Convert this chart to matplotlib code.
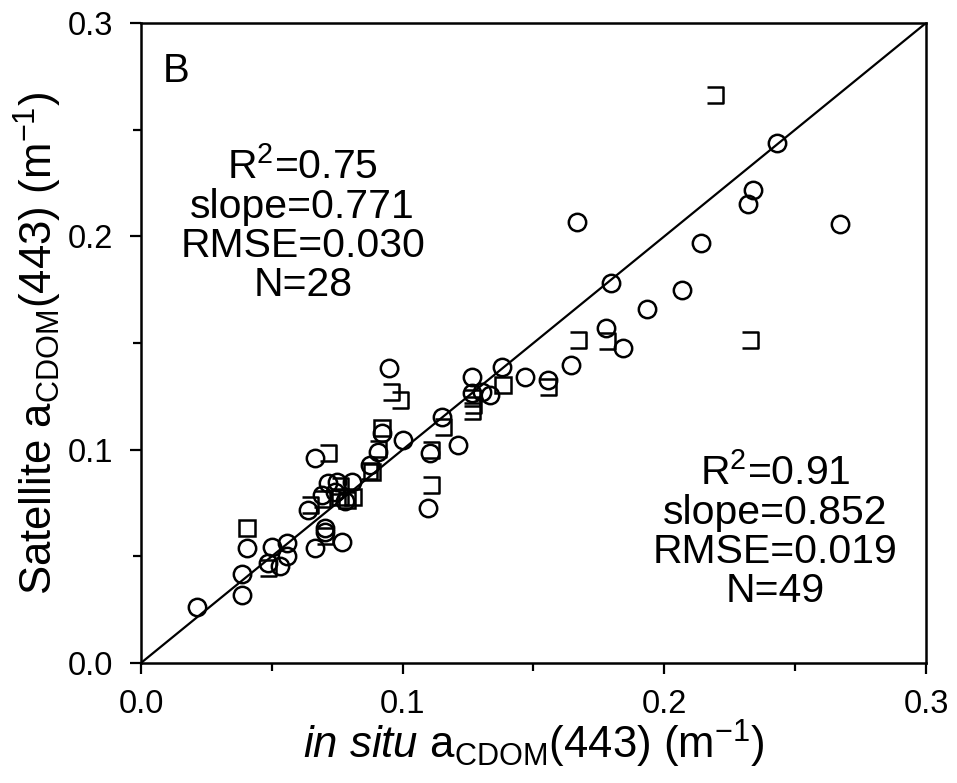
import matplotlib
matplotlib.use("Agg")
import matplotlib.pyplot as plt
from matplotlib.path import Path
from matplotlib.ticker import MultipleLocator, FormatStrFormatter

plt.rcParams['font.family'] = ['Liberation Sans', 'DejaVu Sans']
plt.rcParams['mathtext.fontset'] = 'custom'
plt.rcParams['mathtext.rm'] = 'Liberation Sans'
plt.rcParams['mathtext.it'] = 'Liberation Sans:italic'
plt.rcParams['mathtext.bf'] = 'Liberation Sans:bold'

# ---- data: circles (in situ vs satellite) ----
circ_x = [0.0213, 0.0385, 0.0385, 0.0406, 0.0486, 0.0500, 0.0531, 0.0557, 0.0557, 0.0639,
          0.0665, 0.0703, 0.0703, 0.0767, 0.0690, 0.0665, 0.0716, 0.0748, 0.0805, 0.0875,
          0.0907, 0.0920, 0.0949, 0.1002, 0.1098, 0.1104, 0.1149, 0.1213, 0.1264, 0.1264,
          0.1302, 0.1333, 0.1378, 0.1467, 0.1557, 0.1645, 0.1665, 0.1776, 0.1798, 0.1843,
          0.1935, 0.2069, 0.2142, 0.2321, 0.2339, 0.2429, 0.2671, 0.0740, 0.0780]
circ_y = [0.0264, 0.0319, 0.0416, 0.0537, 0.0467, 0.0545, 0.0455, 0.0502, 0.0561, 0.0717,
          0.0537, 0.0631, 0.0616, 0.0569, 0.0788, 0.0960, 0.0843, 0.0850, 0.0850, 0.0928,
          0.0991, 0.1080, 0.1381, 0.1045, 0.0725, 0.0983, 0.1155, 0.1022, 0.1342, 0.1264,
          0.1272, 0.1256, 0.1389, 0.1342, 0.1327, 0.1397, 0.2066, 0.1569, 0.1783, 0.1475,
          0.1658, 0.1749, 0.1967, 0.2152, 0.2218, 0.2436, 0.2057, 0.0800, 0.0760]

# ---- data: squares (full outline visible) ----
sqf_x = [0.0406, 0.0760, 0.0786, 0.0811, 0.0920, 0.1384, 0.0881]
sqf_y = [0.0631, 0.0780, 0.0764, 0.0780, 0.1100, 0.1303, 0.0897]

# ---- data: squares (printed with open left edge) ----
sqo_x = [0.0486, 0.0646, 0.0716, 0.0907, 0.0954, 0.0990, 0.1110, 0.1110, 0.1155, 0.1270,
         0.1557, 0.1671, 0.1780, 0.2193, 0.2327, 0.0690, 0.0703, 0.0760, 0.1264, 0.0870, 0.1264]
sqo_y = [0.0444, 0.0741, 0.0983, 0.1005, 0.1272, 0.1233, 0.0999, 0.0834, 0.1108, 0.1210,
         0.1295, 0.1514, 0.1507, 0.2663, 0.1514, 0.0770, 0.0595, 0.0830, 0.1240, 0.0900, 0.1180]

one_to_one = [0.0, 0.3]

stats_left = "R$^2$=0.75\nslope=0.771\nRMSE=0.030\nN=28"
stats_right = "R$^2$=0.91\nslope=0.852\nRMSE=0.019\nN=49"

fig = plt.figure(figsize=(9.57, 7.83), dpi=100)
ax = fig.add_axes([0.1473, 0.1533, 0.8203, 0.8173])

ax.plot(one_to_one, one_to_one, color='black', lw=1.6, zorder=1)

open_sq = Path([(-0.5, 0.5), (0.5, 0.5), (0.5, -0.5), (-0.5, -0.5)],
               [Path.MOVETO, Path.LINETO, Path.LINETO, Path.LINETO])

ax.plot(sqo_x, sqo_y, linestyle='none', marker=open_sq, ms=12, mfc='none',
        mec='black', mew=1.8, zorder=2)
ax.plot(sqf_x, sqf_y, linestyle='none', marker='s', ms=11.5, mfc='none',
        mec='black', mew=1.8, zorder=2)
ax.plot(circ_x, circ_y, linestyle='none', marker='o', ms=12.5, mfc='none',
        mec='black', mew=1.8, zorder=3)

ax.set_xlim(0, 0.3)
ax.set_ylim(0, 0.3)
ax.xaxis.set_major_locator(MultipleLocator(0.1))
ax.yaxis.set_major_locator(MultipleLocator(0.1))
ax.xaxis.set_minor_locator(MultipleLocator(0.05))
ax.yaxis.set_minor_locator(MultipleLocator(0.05))
ax.xaxis.set_major_formatter(FormatStrFormatter('%.1f'))
ax.yaxis.set_major_formatter(FormatStrFormatter('%.1f'))
ax.tick_params(which='both', direction='out', width=1.6, top=False, right=False)
ax.tick_params(which='major', length=8, labelsize=23.5)
ax.tick_params(which='minor', length=6)
ax.tick_params(axis='x', which='major', pad=11)
ax.tick_params(axis='y', which='major', pad=12)
for s in ax.spines.values():
    s.set_linewidth(1.8)

ax.set_xlabel(r"$\it{in\ situ}$ a$_{\rm CDOM}$(443) (m$^{-1}$)", fontsize=31.5, labelpad=-2)
ax.set_ylabel(r"Satellite a$_{\rm CDOM}$(443) (m$^{-1}$)", fontsize=31.5, labelpad=3)

ax.text(0.028, 0.955, "B", transform=ax.transAxes, fontsize=29, va='top', ha='left')
ax.text(0.206, 0.684, stats_left, transform=ax.transAxes, fontsize=29.5,
        ha='center', va='center', multialignment='center', linespacing=1.04)
ax.text(0.808, 0.205, stats_right, transform=ax.transAxes, fontsize=29.5,
        ha='center', va='center', multialignment='center', linespacing=1.04)

fig.savefig("out.png", dpi=100)
